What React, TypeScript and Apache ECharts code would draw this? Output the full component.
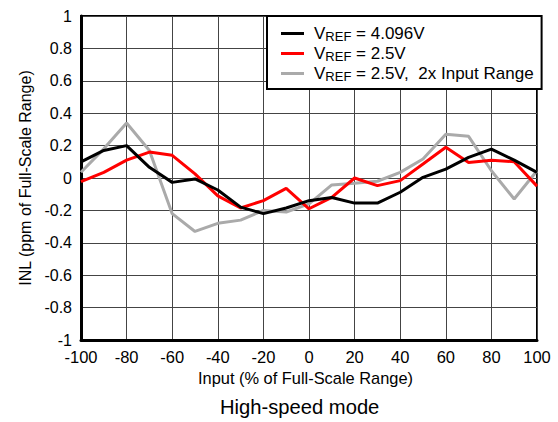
import React, { useEffect, useRef } from "react";
import * as echarts from "echarts";

const xValues = [-100, -90, -80, -70, -60, -50, -40, -30, -20, -10, 0, 10, 20, 30, 40, 50, 60, 70, 80, 90, 100];
const vref4096 = [0.1, 0.17, 0.2, 0.066, -0.027, -0.006, -0.074, -0.18, -0.22, -0.185, -0.14, -0.12, -0.155, -0.155, -0.088, 0.004, 0.055, 0.127, 0.178, 0.11, 0.035];
const vref25 = [-0.023, 0.035, 0.11, 0.16, 0.14, 0.025, -0.11, -0.185, -0.14, -0.064, -0.19, -0.12, 0.0, -0.047, -0.016, 0.086, 0.19, 0.096, 0.11, 0.1, -0.05];
const vref25x2 = [0.035, 0.18, 0.34, 0.17, -0.22, -0.33, -0.28, -0.26, -0.2, -0.21, -0.16, -0.043, -0.033, -0.02, 0.035, 0.117, 0.27, 0.257, 0.045, -0.13, 0.045];
const seriesNames = ["VREF = 4.096V", "VREF = 2.5V", "VREF = 2.5V, 2x Input Range"];
const legendLabels = ["{v|V}{sub|REF}{v| = 4.096V}", "{v|V}{sub|REF}{v| = 2.5V}", "{v|V}{sub|REF}{v| = 2.5V,  2x Input Range}"];
const colors = ["#000000", "#ff0000", "#aaaaaa"];

const FONT = "Liberation Sans, Arial, sans-serif";

export default function App() {
  const ref = useRef<HTMLDivElement>(null);
  useEffect(() => {
    if (!ref.current) return;
    const chart = echarts.init(ref.current, undefined, { renderer: "svg" });
    const datasets = [vref4096, vref25, vref25x2];
    chart.setOption({
      animation: false,
      backgroundColor: "#fff",
      textStyle: { fontFamily: FONT },
      grid: {
        left: 81,
        top: 16,
        width: 456,
        height: 324,
        show: true,
        borderColor: "#000",
        borderWidth: 2,
        backgroundColor: "transparent",
      },
      xAxis: {
        type: "value",
        min: -100,
        max: 100,
        interval: 20,
        axisLine: { show: true, onZero: false, lineStyle: { color: "#000", width: 3 } },
        axisTick: { show: false },
        axisLabel: { color: "#000", fontSize: 16.5, fontFamily: FONT, margin: 8 },
        splitLine: { show: true, lineStyle: { color: "#444", width: 1 } },
      },
      yAxis: {
        type: "value",
        min: -1,
        max: 1,
        interval: 0.2,
        name: "INL (ppm of Full-Scale Range)",
        nameLocation: "middle",
        nameGap: 47,
        nameTextStyle: { color: "#000", fontSize: 16, fontFamily: FONT },
        axisLine: { show: true, onZero: false, lineStyle: { color: "#000", width: 3 } },
        axisTick: { show: false },
        axisLabel: {
          color: "#000",
          fontSize: 16,
          fontFamily: FONT,
          margin: 9,
          formatter: (v: number) => String(Math.round(v * 10) / 10),
        },
        splitLine: { show: true, lineStyle: { color: "#444", width: 1 } },
      },
      legend: {
        left: 267,
        top: 16,
        orient: "vertical",
        icon: "rect",
        itemWidth: 23,
        itemHeight: 3,
        itemGap: 1,
        padding: [8, 8, 6, 14],
        backgroundColor: "#fff",
        borderColor: "#000",
        borderWidth: 2,
        data: seriesNames,
        formatter: (name: string) => legendLabels[seriesNames.indexOf(name)],
        textStyle: {
          padding: [0, 0, 0, 5],
          rich: {
            v: { fontSize: 17, fontFamily: FONT, color: "#000", lineHeight: 19 },
            sub: { fontSize: 13, fontFamily: FONT, color: "#000", lineHeight: 19, verticalAlign: "bottom", padding: [6, 0, 0, 0] },
          },
        },
      },
      graphic: [
        {
          type: "text",
          left: 198,
          top: 370,
          style: { text: "Input (% of Full-Scale Range)", fontSize: 16.4, fontFamily: FONT, fill: "#000" },
        },
        {
          type: "text",
          left: 220,
          top: 397,
          style: { text: "High-speed mode", fontSize: 20.2, fontFamily: FONT, fill: "#000" },
        },
      ],
      series: datasets.map((d, i) => ({
        name: seriesNames[i],
        type: "line",
        data: xValues.map((x, j) => [x, d[j]]),
        symbol: "none",
        lineStyle: { color: colors[i], width: 3 },
        itemStyle: { color: colors[i] },
        z: 3 - i,
      })),
    });
    return () => chart.dispose();
  }, []);
  return <div ref={ref} style={{ width: 558, height: 422, position: "absolute", left: 0, top: 0 }} />;
}
